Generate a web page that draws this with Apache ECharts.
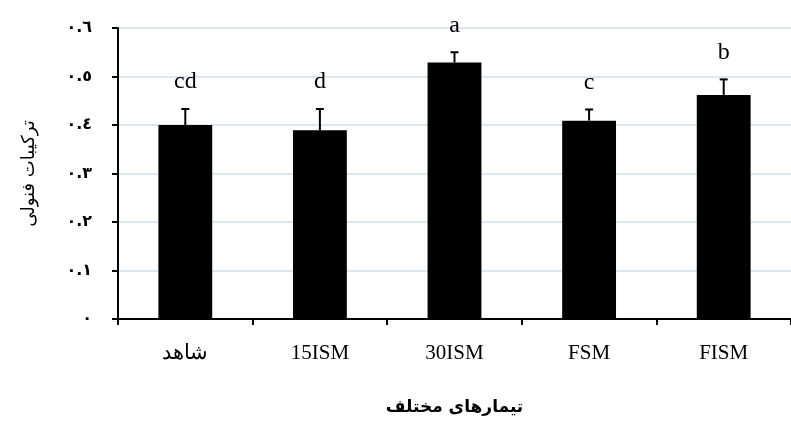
<!DOCTYPE html>
<html>
<head>
<meta charset="utf-8">
<title>phenolic</title>
<script src="https://cdn.jsdelivr.net/npm/echarts@6/dist/echarts.min.js"></script>
<style>
  html, body { margin: 0; padding: 0; background: #fff; }
</style>
</head>
<body>
<div id="main" style="width: 791px; height: 421px;"></div>
<script>
var categories = ['شاهد', '15ISM', '30ISM', 'FSM', 'FISM'];
var means = [0.400, 0.389, 0.529, 0.409, 0.462];
var errors = [0.033, 0.044, 0.021, 0.023, 0.032];
var letters = ['cd', 'd', 'a', 'c', 'b'];
var yTicks = [0, 0.1, 0.2, 0.3, 0.4, 0.5, 0.6];

// arabic-indic digits for the y labels
function toArabicDigits(v) {
  var s = v === 0 ? '0' : v.toFixed(1);
  var d = '٠١٢٣٤٥٦٧٨٩';
  return s.replace(/[0-9]/g, function (c) { return d[+c]; });
}

var chart = echarts.init(document.getElementById('main'));

var errData = means.map(function (m, i) { return [i, m, errors[i]]; });

var option = {
  animation: false,
  backgroundColor: '#fff',
  grid: { left: 118, top: 28, width: 680, height: 298, containLabel: false },
  xAxis: {
    type: 'category',
    data: categories,
    name: 'تیمارهای مختلف',
    nameLocation: 'middle',
    nameGap: 80,
    nameTextStyle: { fontFamily: 'DejaVu Sans', fontSize: 17, fontWeight: 'bold', color: '#000' },
    axisLine: { lineStyle: { color: '#000', width: 2 } },
    axisTick: { show: true, length: 6, lineStyle: { color: '#000', width: 2 } },
    axisLabel: {
      margin: 24,
      fontFamily: 'Liberation Serif',
      fontSize: 21,
      color: '#000'
    },
    splitLine: { show: false }
  },
  yAxis: {
    type: 'value',
    min: 0,
    max: yTicks[yTicks.length - 1],
    interval: 0.1,
    name: 'ترکیبات فنولی',
    nameLocation: 'middle',
    nameRotate: 90,
    nameGap: 80,
    nameTextStyle: { fontFamily: 'DejaVu Sans', fontSize: 18, color: '#000' },
    axisLine: { show: true, lineStyle: { color: '#000', width: 2 } },
    axisTick: { show: true, length: 6, lineStyle: { color: '#000', width: 2 } },
    axisLabel: {
      margin: 26,
      fontFamily: 'DejaVu Sans',
      fontSize: 16,
      fontWeight: 'bold',
      color: '#000',
      formatter: function (v) { return toArabicDigits(v); }
    },
    splitLine: { show: true, lineStyle: { color: '#dce6f2', width: 2 } }
  },
  series: [
    {
      type: 'bar',
      data: means,
      barWidth: '40%',
      itemStyle: { color: '#000' }
    },
    {
      type: 'custom',
      data: errData,
      z: 5,
      renderItem: function (params, api) {
        var i = api.value(0);
        var top = api.coord([i, api.value(1) + api.value(2)]);
        var base = api.coord([i, api.value(1)]);
        var cap = 4;
        return {
          type: 'group',
          children: [
            { type: 'line', shape: { x1: base[0], y1: base[1], x2: top[0], y2: top[1] },
              style: { stroke: '#000', lineWidth: 2 } },
            { type: 'line', shape: { x1: top[0] - cap, y1: top[1], x2: top[0] + cap, y2: top[1] },
              style: { stroke: '#000', lineWidth: 2 } },
            { type: 'text', x: top[0], y: top[1] - 15,
              style: { text: letters[params.dataIndex], fontFamily: 'Liberation Serif', fontSize: 24,
                       fill: '#000', align: 'center', verticalAlign: 'bottom' } }
          ]
        };
      }
    }
  ]
};

chart.setOption(option);
</script>
</body>
</html>
